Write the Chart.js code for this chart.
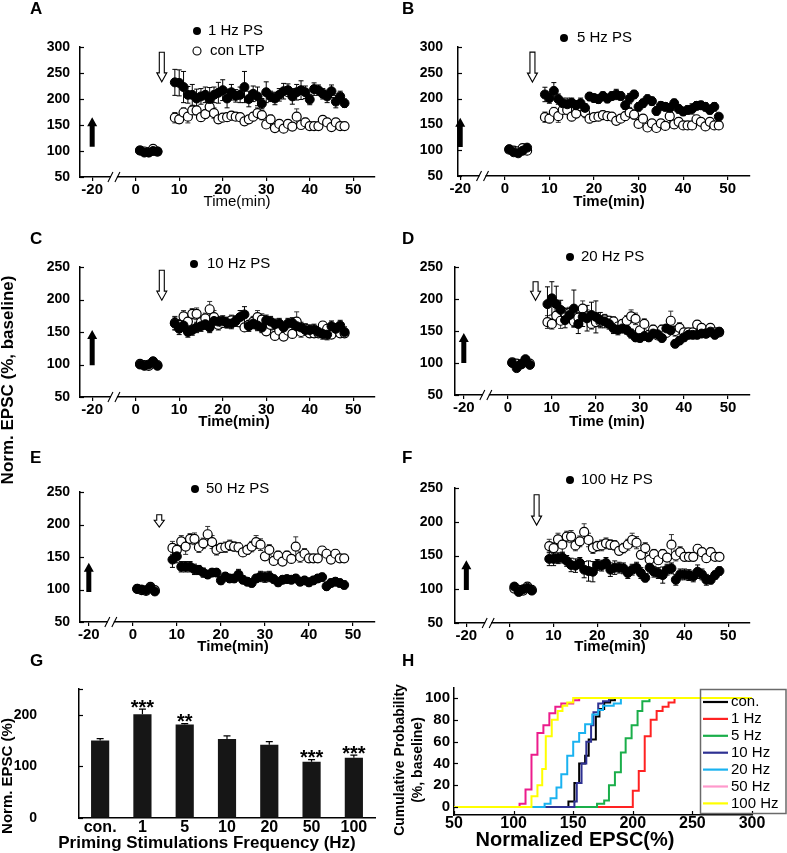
<!DOCTYPE html>
<html>
<head>
<meta charset="utf-8">
<title>Priming stimulation and LTP</title>
<script src="https://cdn.jsdelivr.net/npm/chart.js@4.4.1/dist/chart.umd.min.js"></script>
<style>
  html, body { margin: 0; padding: 0; background: #ffffff; }
  #fig { position: relative; width: 787px; height: 853px; overflow: hidden; background: #ffffff; }
  #fig canvas { position: absolute; left: 0; top: 0; }
</style>
</head>
<body>
<div id="fig">
  <canvas id="cA" width="787" height="853"></canvas>
  <canvas id="cB" width="787" height="853"></canvas>
  <canvas id="cC" width="787" height="853"></canvas>
  <canvas id="cD" width="787" height="853"></canvas>
  <canvas id="cE" width="787" height="853"></canvas>
  <canvas id="cF" width="787" height="853"></canvas>
  <canvas id="cG" width="787" height="853"></canvas>
  <canvas id="cH" width="787" height="853"></canvas>
</div>
<script>
// ---------------- DATA ----------------
// time of each sample (min); 1-5 baseline, 9-48 after induction
const timeMin = [1,2,3,4,5,9,10,11,12,13,14,15,16,17,18,19,20,21,22,23,24,25,26,27,28,29,30,31,32,33,34,35,36,37,38,39,40,41,42,43,44,45,46,47,48];
const timeTicks = [-20, 0, 10, 20, 30, 40, 50];

// control LTP (open circles)
const conLTP    = [101,99,98,104,99, 164,161,174,166,178,178,165,171,185,173,161,164,165,168,166,165,157,161,166,173,169,151,161,144,152,143,152,147,166,150,155,148,148,148,160,155,146,155,148,148];
const conLTPErr = [3,3,3,4,3, 10,8,9,12,8,9,8,8,12,10,8,7,8,8,7,7,6,7,8,10,9,6,8,6,7,6,7,6,15,8,8,6,6,6,6,6,6,6,5,5];

// priming stimulation groups (filled circles)
const ps1Hz    = [101,97,97,100,99, 232,231,223,208,208,201,205,208,200,208,212,217,201,213,206,208,223,200,210,205,191,213,205,201,208,215,217,205,213,217,213,199,219,217,210,205,215,195,205,192];
const ps1HzErr = [3,3,3,4,3, 25,25,30,16,20,18,15,15,22,15,20,20,18,15,12,15,30,15,15,18,10,20,10,12,12,15,12,15,15,18,12,10,12,10,10,12,12,12,10,8];

const ps5Hz    = [102,96,94,99,105, 208,201,215,199,191,189,192,187,191,182,204,201,199,205,200,205,208,205,187,200,208,184,191,199,195,176,186,184,182,191,180,175,178,180,186,187,184,178,184,165];
const ps5HzErr = [4,4,4,4,4, 14,10,16,10,10,12,9,9,10,8,8,8,8,8,8,8,10,8,8,10,8,8,8,8,8,8,8,8,8,8,8,8,8,10,8,8,8,8,8,6];

const ps10Hz    = [100,98,100,105,98, 163,155,160,150,153,157,159,162,157,167,166,167,164,163,167,173,177,159,163,160,157,168,166,162,163,157,163,164,159,157,153,153,154,150,147,146,159,155,160,150];
const ps10HzErr = [3,3,3,3,3, 10,9,8,8,8,8,8,8,8,8,8,8,8,8,8,10,12,8,8,8,8,8,8,8,8,8,8,8,8,8,8,8,8,8,8,8,8,8,8,8];

const ps20Hz    = [100,92,98,106,97, 192,201,192,183,167,175,185,161,172,170,175,172,167,165,161,154,152,154,152,146,140,139,142,140,146,145,139,154,151,130,135,140,144,144,144,146,146,149,144,149];
const ps20HzErr = [4,4,4,4,4, 27,26,28,15,12,10,29,15,15,20,20,25,12,10,8,8,8,7,7,7,6,6,6,6,6,6,6,6,6,6,6,6,6,6,6,6,6,6,6,6];

const ps50Hz    = [101,100,99,103,97, 146,151,135,135,135,131,130,126,123,126,126,114,120,117,117,123,115,112,110,117,120,119,120,116,111,115,116,115,117,112,114,111,114,117,119,105,110,112,110,107];
const ps50HzErr = [3,3,3,3,3, 12,10,8,8,8,8,7,7,6,6,6,6,6,6,6,8,6,6,6,6,8,8,8,6,6,6,6,6,6,6,6,6,6,6,6,6,6,6,6,6];

const ps100Hz    = [104,96,100,102,98, 145,145,146,147,142,136,135,139,129,127,126,136,135,139,129,132,132,131,124,129,132,124,117,132,126,124,121,129,131,114,122,122,121,119,126,122,114,114,121,127];
const ps100HzErr = [4,4,4,4,4, 10,10,8,8,8,10,10,8,12,15,15,8,8,8,10,10,8,8,8,8,8,8,6,8,8,8,12,8,8,8,8,8,8,8,10,8,8,6,6,6];

// panel G: mean normalized EPSC per priming frequency
const freqLabels = ['con.', '1', '5', '10', '20', '50', '100'];
const epscMean   = [150, 201, 181, 153, 142, 109, 117];
const epscSem    = [4, 10, 2, 6, 6, 4, 5];
const sigStars   = ['', '***', '**', '', '', '***', '***'];
const epscTicks  = [0, 100, 200];

// panel H: cumulative probability (step points: EPSC %, probability %)
const cdfNames = ['con.', '1 Hz', '5 Hz', '10 Hz', '20 Hz', '50 Hz', '100 Hz'];
const conEpsc   = [50,146,151,155,160,163,169,172,176,181,185,300];
const conProb   = [0,5,22,40,47,62,83,90,96,98,100,100];
const hz1Epsc   = [50,200,205,210,215,220,225,230,235,300];
const hz1Prob   = [0,15,33,65,80,88,92,96,100,100];
const hz5Epsc   = [50,170,176,180,185,190,194,199,204,208,214,300];
const hz5Prob   = [0,3,6,20,32,50,63,75,88,97,100,100];
const hz10Epsc  = [50,151,153,157,161,165,167,171,175,180,300];
const hz10Prob  = [0,5,22,40,60,75,87,95,97,100,100];
const hz20Epsc  = [50,126,131,136,140,145,150,155,160,166,171,175,184,190,300];
const hz20Prob  = [0,3,8,18,30,47,60,68,76,85,89,93,95,100,100];
const hz50Epsc  = [50,105,110,115,120,125,130,135,140,150,155,300];
const hz50Prob  = [0,3,16,48,68,75,86,92,95,98,100,100];
const hz100Epsc = [50,115,120,124,127,132,137,141,145,150,300];
const hz100Prob = [0,10,20,35,65,80,88,93,96,100,100];
const cdfProbTicks = [0, 20, 40, 60, 80, 100];

// ---------------- STYLE / LAYOUT ----------------
const W = 787, H = 853;
const FAM = '"Liberation Sans", Arial, Helvetica, sans-serif';
const F = (size, bold) => (bold ? 'bold ' : '') + size + 'px ' + FAM;
Chart.defaults.font.family = FAM;
Chart.defaults.color = '#000';

const brk = t => (t < 0 ? t / 2 : t);   // axis break: -20 min drawn at half distance

function txt(ctx, s, x, y, font, align, rot) {
  ctx.save();
  ctx.font = font; ctx.fillStyle = '#000';
  ctx.textAlign = align || 'left'; ctx.textBaseline = 'middle';
  ctx.translate(x, y);
  if (rot) ctx.rotate(rot);
  ctx.fillText(s, 0, 0);
  ctx.restore();
}

function upArrow(ctx, x, yTip, yTail) {
  const hl = 9;
  ctx.save();
  ctx.beginPath();
  ctx.moveTo(x, yTip);
  ctx.lineTo(x + 5, yTip + hl);
  ctx.lineTo(x + 2.5, yTip + hl);
  ctx.lineTo(x + 2.5, yTail);
  ctx.lineTo(x - 2.5, yTail);
  ctx.lineTo(x - 2.5, yTip + hl);
  ctx.lineTo(x - 5, yTip + hl);
  ctx.closePath();
  ctx.fillStyle = '#000'; ctx.fill();
  ctx.restore();
}

function downArrow(ctx, x, yTail, yTip) {
  const hl = Math.min(9, (yTip - yTail) * 0.55);
  ctx.save();
  ctx.beginPath();
  ctx.moveTo(x, yTip);
  ctx.lineTo(x + 5, yTip - hl);
  ctx.lineTo(x + 2.5, yTip - hl);
  ctx.lineTo(x + 2.5, yTail);
  ctx.lineTo(x - 2.5, yTail);
  ctx.lineTo(x - 2.5, yTip - hl);
  ctx.lineTo(x - 5, yTip - hl);
  ctx.closePath();
  ctx.fillStyle = '#fff'; ctx.fill();
  ctx.strokeStyle = '#000'; ctx.lineWidth = 1.1; ctx.stroke();
  ctx.restore();
}

const panels = [
  { id: 'cA', letter: 'A', lx: 30, ly: 9, name: '1 Hz PS', values: ps1Hz, errs: ps1HzErr,
    area: { l: 80, r: 375, t: 47, b: 177 }, yMax: 300, xMin: -12.8, yPad: 10,
    stim: [108, 165], prime: { t: 6, from: 290, to: 233 },
    legend: [{ x: 197, y: 31, tx: 208, open: false, text: '1 Hz PS' }, { x: 197, y: 51, tx: 210, open: true, text: 'con LTP' }],
    title: { text: 'Time(min)', x: 237, y: 202, bold: false } },
  { id: 'cB', letter: 'B', lx: 402, ly: 9, name: '5 Hz PS', values: ps5Hz, errs: ps5HzErr,
    area: { l: 458, r: 750, t: 47, b: 176 }, yMax: 300, xMin: -10.5, yPad: 15,
    stim: [106, 163], prime: { t: 6.2, from: 290, to: 232 },
    legend: [{ x: 564, y: 38, tx: 577, open: false, text: '5 Hz PS' }],
    title: { text: 'Time(min)', x: 609, y: 202, bold: true } },
  { id: 'cC', letter: 'C', lx: 30, ly: 239, name: '10 Hz PS', values: ps10Hz, errs: ps10HzErr,
    area: { l: 80, r: 375, t: 267, b: 397 }, yMax: 250, xMin: -12.8, yPad: 10,
    stim: [99, 153], prime: { t: 6, from: 245, to: 199 },
    legend: [{ x: 194, y: 264, tx: 207, open: false, text: '10 Hz PS' }],
    title: { text: 'Time(min)', x: 234, y: 422, bold: true }, globalY: true },
  { id: 'cD', letter: 'D', lx: 402, ly: 239, name: '20 Hz PS', values: ps20Hz, errs: ps20HzErr,
    area: { l: 455, r: 750, t: 267, b: 395 }, yMax: 250, xMin: -12, yPad: 12,
    stim: [100, 147], prime: { t: 6.3, from: 227, to: 198 },
    legend: [{ x: 570, y: 257, tx: 581, open: false, text: '20 Hz PS' }],
    title: { text: 'Time (min)', x: 607, y: 422, bold: true } },
  { id: 'cE', letter: 'E', lx: 30, ly: 458, name: '50 Hz PS', values: ps50Hz, errs: ps50HzErr,
    area: { l: 80, r: 375, t: 492, b: 622 }, yMax: 250, xMin: -12, yPad: 10,
    stim: [96, 141], prime: { t: 6, from: 215, to: 196 },
    legend: [{ x: 195, y: 489, tx: 206, open: false, text: '50 Hz PS' }],
    title: { text: 'Time(min)', x: 233, y: 647, bold: true } },
  { id: 'cF', letter: 'F', lx: 402, ly: 458, name: '100 Hz PS', values: ps100Hz, errs: ps100HzErr,
    area: { l: 455, r: 750, t: 488, b: 623 }, yMax: 250, xMin: -12.6, yPad: 12,
    stim: [99, 143], prime: { t: 6.1, from: 240, to: 195 },
    legend: [{ x: 570, y: 480, tx: 581, open: false, text: '100 Hz PS' }],
    title: { text: 'Time(min)', x: 610, y: 647, bold: true } }
];

function errBars(chart, ds, di) {
  const ctx = chart.ctx, ys = chart.scales.y;
  const meta = chart.getDatasetMeta(di);
  ctx.save();
  ctx.strokeStyle = ds.errColor; ctx.lineWidth = 1;
  meta.data.forEach((el, i) => {
    const v = ds.data[i].y, e = ds.err[i];
    const y1 = ys.getPixelForValue(v + e), y2 = ys.getPixelForValue(v - e);
    ctx.beginPath();
    ctx.moveTo(el.x, y1); ctx.lineTo(el.x, y2);
    ctx.moveTo(el.x - 2.5, y1); ctx.lineTo(el.x + 2.5, y1);
    ctx.moveTo(el.x - 2.5, y2); ctx.lineTo(el.x + 2.5, y2);
    ctx.stroke();
  });
  ctx.restore();
}

function innerYTicks(chart, len) {
  const ctx = chart.ctx, ys = chart.scales.y, left = chart.chartArea.left;
  ctx.save(); ctx.strokeStyle = '#000'; ctx.lineWidth = 1.2;
  ys.ticks.forEach(t => {
    const y = Math.round(ys.getPixelForValue(t.value)) + 0.5;
    ctx.beginPath(); ctx.moveTo(left, y); ctx.lineTo(left + len, y); ctx.stroke();
  });
  ctx.restore();
}

function timeDeco(p) {
  return {
    id: 'deco' + p.letter,
    beforeDatasetsDraw(chart) {
      chart.data.datasets.slice().reverse().forEach((ds) => {
        errBars(chart, ds, chart.data.datasets.indexOf(ds));
      });
    },
    afterDraw(chart) {
      const ctx = chart.ctx, xs = chart.scales.x, ys = chart.scales.y, ca = chart.chartArea;
      // stimulation arrows
      upArrow(ctx, xs.getPixelForValue(brk(timeTicks[0])), ys.getPixelForValue(p.stim[1]), ys.getPixelForValue(p.stim[0]));
      downArrow(ctx, xs.getPixelForValue(p.prime.t), ys.getPixelForValue(p.prime.from), ys.getPixelForValue(p.prime.to));
      // axis break
      const bx = xs.getPixelForValue(brk(-10)), by = ca.bottom;
      ctx.save();
      ctx.fillStyle = '#fff'; ctx.fillRect(bx - 3, by - 2, 6, 4);
      ctx.strokeStyle = '#000'; ctx.lineWidth = 1.1;
      ctx.beginPath();
      ctx.moveTo(bx - 6, by + 5); ctx.lineTo(bx - 1, by - 5);
      ctx.moveTo(bx + 1, by + 5); ctx.lineTo(bx + 6, by - 5);
      ctx.stroke();
      ctx.restore();
      innerYTicks(chart, 4);
      // legend
      p.legend.forEach(l => {
        ctx.save();
        ctx.beginPath(); ctx.arc(l.x, l.y, 4, 0, Math.PI * 2);
        if (l.open) { ctx.fillStyle = '#fff'; ctx.fill(); ctx.strokeStyle = '#000'; ctx.lineWidth = 1.1; ctx.stroke(); }
        else { ctx.fillStyle = '#000'; ctx.fill(); }
        ctx.restore();
        txt(ctx, l.text, l.tx, l.y, F(15, false), 'left');
      });
      txt(ctx, p.letter, p.lx, p.ly, F(17, true), 'left');
      txt(ctx, p.title.text, p.title.x, p.title.y, F(15, p.title.bold), 'center');
      if (p.globalY) txt(ctx, 'Norm. EPSC (%, baseline)', 8, 380, F(17, true), 'center', -Math.PI / 2);
    }
  };
}

function makeTimeChart(p) {
  const yW = 70, xH = 36, a = p.area;
  const datasets = [
    { label: p.name, data: timeMin.map((t, i) => ({ x: t, y: p.values[i] })), err: p.errs, errColor: '#000',
      pointRadius: 4.5, pointHoverRadius: 4.5, pointBackgroundColor: '#000', pointBorderColor: '#000', pointBorderWidth: 1 },
    { label: 'con LTP', data: timeMin.map((t, i) => ({ x: t, y: conLTP[i] })), err: conLTPErr, errColor: '#333',
      pointRadius: 4.5, pointHoverRadius: 4.5, pointBackgroundColor: '#fff', pointBorderColor: '#000', pointBorderWidth: 1.2 }
  ];
  new Chart(document.getElementById(p.id), {
    type: 'scatter',
    data: { datasets },
    options: {
      responsive: false, animation: false, events: [],
      layout: { padding: { left: a.l - yW, right: W - a.r, top: a.t, bottom: H - a.b - xH } },
      plugins: { legend: { display: false }, tooltip: { enabled: false } },
      scales: {
        x: { type: 'linear', position: 'bottom', min: p.xMin, max: 55,
             afterFit: s => { s.height = xH; },
             afterBuildTicks: s => { s.ticks = timeTicks.map(t => ({ value: brk(t) })); },
             ticks: { autoSkip: false, maxRotation: 0, padding: 0, font: { size: 15, weight: 'bold' },
                      callback: v => { const t = timeTicks.find(tt => brk(tt) === v); return t === undefined ? '' : String(t); } },
             grid: { drawOnChartArea: false, drawTicks: true, tickLength: 4, color: '#000', lineWidth: 1.2 },
             border: { display: true, color: '#000', width: 1.5 } },
        y: { type: 'linear', min: 50, max: p.yMax,
             afterFit: s => { s.width = yW; },
             ticks: { stepSize: 50, padding: p.yPad, font: { size: 14, weight: 'bold' } },
             grid: { drawOnChartArea: false, drawTicks: false },
             border: { display: true, color: '#000', width: 1.5 } }
      }
    },
    plugins: [timeDeco(p)]
  });
}
panels.forEach(makeTimeChart);

// ---------------- PANEL G ----------------
(function () {
  const a = { l: 79, r: 375, t: 689, b: 818 }, yW = 70, xH = 22;
  new Chart(document.getElementById('cG'), {
    type: 'bar',
    data: { labels: freqLabels, datasets: [{ label: 'Norm. EPSC (%)', data: epscMean, backgroundColor: '#161616',
      borderWidth: 0, barPercentage: 0.43, categoryPercentage: 1 }] },
    options: {
      responsive: false, animation: false, events: [],
      layout: { padding: { left: a.l - yW, right: W - a.r, top: a.t, bottom: H - a.b - xH } },
      plugins: { legend: { display: false }, tooltip: { enabled: false } },
      scales: {
        x: { afterFit: s => { s.height = xH; },
             ticks: { padding: 0, font: { size: 16, weight: 'bold' }, maxRotation: 0, autoSkip: false },
             grid: { drawOnChartArea: false, drawTicks: false },
             border: { display: true, color: '#000', width: 1.5 } },
        y: { min: 0, max: 250,
             afterFit: s => { s.width = yW; },
             afterBuildTicks: s => { s.ticks = epscTicks.concat([250]).map(v => ({ value: v })); },
             ticks: { display: false },
             grid: { drawOnChartArea: false, drawTicks: false },
             border: { display: true, color: '#000', width: 1.5 } }
      }
    },
    plugins: [{
      id: 'decoG',
      afterDatasetsDraw(chart) {
        const ctx = chart.ctx, ys = chart.scales.y, meta = chart.getDatasetMeta(0);
        meta.data.forEach((bar, i) => {
          const top = ys.getPixelForValue(epscMean[i] + epscSem[i]);
          const y0 = ys.getPixelForValue(epscMean[i]);
          ctx.save(); ctx.strokeStyle = '#000'; ctx.lineWidth = 1.2;
          ctx.beginPath(); ctx.moveTo(bar.x, y0); ctx.lineTo(bar.x, top);
          ctx.moveTo(bar.x - 3.5, top); ctx.lineTo(bar.x + 3.5, top); ctx.stroke();
          ctx.restore();
          if (sigStars[i]) {
            ctx.save(); ctx.font = F(20, true); ctx.fillStyle = '#000';
            ctx.textAlign = 'center'; ctx.textBaseline = 'alphabetic';
            ctx.fillText(sigStars[i], bar.x, top + 4.5);
            ctx.restore();
          }
        });
      },
      afterDraw(chart) {
        const ctx = chart.ctx, ys = chart.scales.y, ca = chart.chartArea;
        innerYTicks(chart, 4);
        epscTicks.forEach(v => txt(ctx, String(v), ca.left - 42, ys.getPixelForValue(v), F(14, true), 'right'));
        txt(ctx, 'G', 30, 661, F(17, true), 'left');
        txt(ctx, 'Priming Stimulations Frequency (Hz)', 207, 843, F(17, true), 'center');
        txt(ctx, 'Norm. EPSC (%)', 8, 776, F(15, true), 'center', -Math.PI / 2);
      }
    }]
  });
})();

// ---------------- PANEL H ----------------
(function () {
  const a = { l: 454, r: 752, t: 688, b: 815 }, yW = 50, xH = 22;
  const series = [
    [conEpsc, conProb, '#000000', '#000000'],
    [hz1Epsc, hz1Prob, '#ff2222', '#ff2222'],
    [hz5Epsc, hz5Prob, '#1aae4a', '#1aae4a'],
    [hz10Epsc, hz10Prob, '#2e3192', '#2e3192'],
    [hz20Epsc, hz20Prob, '#1ab2f0', '#1ab2f0'],
    [hz50Epsc, hz50Prob, '#ec1c8c', '#ff99cc'],
    [hz100Epsc, hz100Prob, '#ffff00', '#ffff00']
  ];
  const datasets = series.map((s, k) => ({
    label: cdfNames[k],
    data: s[0].map((x, i) => ({ x: x, y: s[1][i] })),
    borderColor: s[2], borderWidth: 2, pointRadius: 0, fill: false, stepped: true,
    order: series.length - 1 - k, legendColor: s[3]
  }));
  new Chart(document.getElementById('cH'), {
    type: 'line',
    data: { datasets },
    options: {
      responsive: false, animation: false, events: [],
      layout: { padding: { left: a.l - yW, right: W - a.r, top: a.t, bottom: H - a.b - xH } },
      plugins: { legend: { display: false }, tooltip: { enabled: false } },
      scales: {
        x: { type: 'linear', min: 50, max: 300,
             afterFit: s => { s.height = xH; },
             ticks: { stepSize: 50, padding: -1, font: { size: 16, weight: 'bold' }, maxRotation: 0 },
             grid: { drawOnChartArea: false, drawTicks: false },
             border: { display: true, color: '#000', width: 1.5 } },
        y: { type: 'linear', min: -7.3, max: 109.2,
             afterFit: s => { s.width = yW; },
             afterBuildTicks: s => { s.ticks = cdfProbTicks.map(v => ({ value: v })); },
             ticks: { padding: 4, font: { size: 15, weight: 'bold' } },
             grid: { drawOnChartArea: false, drawTicks: false },
             border: { display: true, color: '#000', width: 1.5 } }
      }
    },
    plugins: [{
      id: 'decoH',
      afterDraw(chart) {
        const ctx = chart.ctx, xs = chart.scales.x, ca = chart.chartArea;
        innerYTicks(chart, 4);
        ctx.save(); ctx.strokeStyle = '#000'; ctx.lineWidth = 1.2;
        xs.ticks.forEach(t => {
          const x = Math.round(xs.getPixelForValue(t.value)) + 0.5;
          ctx.beginPath(); ctx.moveTo(x, ca.bottom); ctx.lineTo(x, ca.bottom - 4); ctx.stroke();
        });
        ctx.restore();
        // legend box
        ctx.save();
        ctx.strokeStyle = '#6a6a6a'; ctx.lineWidth = 1.5;
        ctx.strokeRect(700.5, 689.5, 85.5, 124);
        chart.data.datasets.forEach((ds, k) => {
          const y = 702 + k * 16.9;
          ctx.strokeStyle = ds.legendColor; ctx.lineWidth = 2.2;
          ctx.beginPath(); ctx.moveTo(703, y); ctx.lineTo(728, y); ctx.stroke();
          txt(ctx, ds.label, 731, y, F(15, false), 'left');
        });
        ctx.restore();
        txt(ctx, 'H', 402, 661, F(17, true), 'left');
        txt(ctx, 'Normalized EPSC(%)', 575, 840, F(20, true), 'center');
        txt(ctx, 'Cumulative Probability', 400, 760, F(14, true), 'center', -Math.PI / 2);
        txt(ctx, '(%, baseline)', 418, 760, F(14, true), 'center', -Math.PI / 2);
      }
    }]
  });
})();
</script>
</body>
</html>
